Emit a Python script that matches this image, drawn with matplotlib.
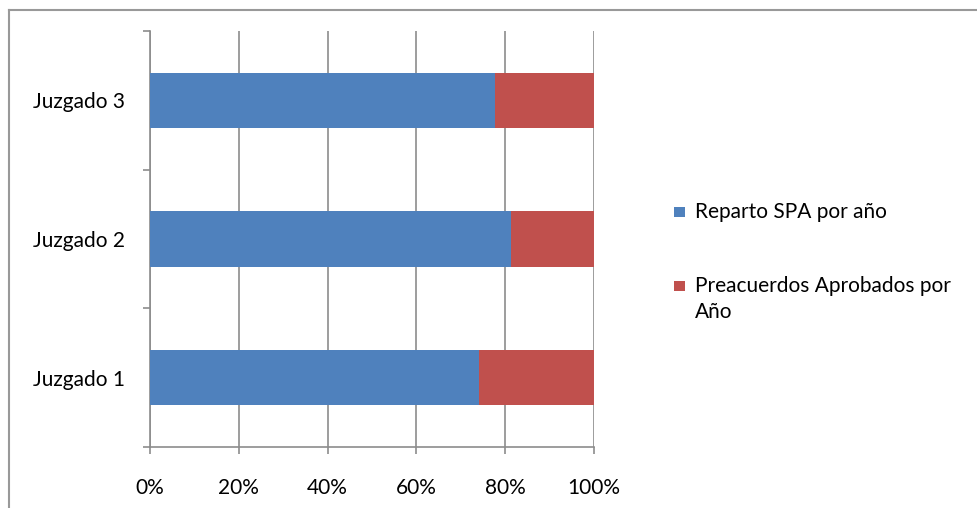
import numpy as np
import matplotlib.pyplot as plt
from matplotlib.lines import Line2D
from matplotlib.patches import Rectangle

plt.rcParams['font.family'] = ['Lato', 'DejaVu Sans']

juzgados = ['Juzgado 1', 'Juzgado 2', 'Juzgado 3']
reparto = [74.1, 81.4, 77.8]          # % Reparto SPA por año
preacuerdos = [25.9, 18.6, 22.2]      # % Preacuerdos Aprobados por Año
series_names = ['Reparto SPA por año', 'Preacuerdos Aprobados por\nAño']
colores = ['#4F81BD', '#C0504D']
grid_gray = '#8C8C8C'
fs = 15

fig = plt.figure(figsize=(9.77, 5.08), dpi=100)
ax = fig.add_axes([150 / 977, 61 / 508, 444 / 977, 416 / 508])

pos = np.arange(len(juzgados))
ax.barh(pos, reparto, height=0.4, color=colores[0], zorder=3)
ax.barh(pos, preacuerdos, left=reparto, height=0.4, color=colores[1], zorder=3)

ax.set_xlim(0, 100)
ax.set_ylim(-0.5, len(juzgados) - 0.5)
ax.set_xticks(np.arange(0, 101, 20))
ax.set_xticklabels([f'{v}%' for v in range(0, 101, 20)])
ax.set_yticks(pos)
ax.set_yticklabels(juzgados)
ax.set_yticks(np.arange(-0.5, len(juzgados), 1), minor=True)

ax.grid(axis='x', color=grid_gray, linewidth=1.2, zorder=0)
for s in ['top', 'right']:
    ax.spines[s].set_visible(False)
for s in ['left', 'bottom']:
    ax.spines[s].set_color(grid_gray)
    ax.spines[s].set_linewidth(1.2)

ax.tick_params(axis='y', which='major', length=0, pad=18, labelsize=fs)
ax.tick_params(axis='y', which='minor', length=5, width=1.2, color=grid_gray)
ax.tick_params(axis='x', length=5, width=1.2, color=grid_gray, pad=17, labelsize=fs)

# leyenda a la derecha (cuadro de color + texto)
leg_y = [212, 286]
for c, name, y in zip(colores, series_names, leg_y):
    fig.add_artist(Rectangle((674 / 977, 1 - (y + 5) / 508), 11 / 977, 10 / 508,
                             facecolor=c, edgecolor='none'))
    fig.text(695 / 977, 1 - (y - 10) / 508, name, fontsize=fs, va='top',
             ha='left', linespacing=1.35)

# marco exterior del gráfico
fig.add_artist(Line2D([9 / 977, 1], [1 - 10 / 508] * 2, color='#999999', linewidth=1.5))
fig.add_artist(Line2D([9 / 977] * 2, [0, 1 - 10 / 508], color='#999999', linewidth=1.5))

fig.savefig('out.png', dpi=100)
